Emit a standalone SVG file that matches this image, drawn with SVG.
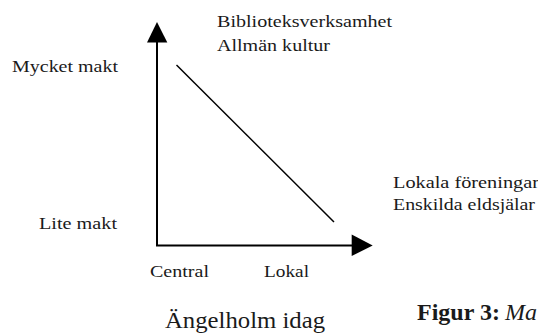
<svg xmlns="http://www.w3.org/2000/svg" width="538" height="333" viewBox="0 0 538 333">
<style>
  text { font-family: "Liberation Serif", "Times New Roman", serif; fill: #1a1a1a; }
  .lbl { font-size: 16px; }
  .big { font-size: 23px; }
  .cap { font-size: 24px; }
  .axis { stroke: #000; stroke-width: 2; fill: none; }
  .diag { stroke: #000; stroke-width: 1.5; fill: none; }
  .head { fill: #000; stroke: none; }
</style>
<rect width="538" height="333" fill="#fff"/>
<g id="connectors">
  <path class="axis" d="M157 246 V41"/>
  <polygon class="head" points="157,22 147,42.5 167.3,42.5"/>
  <path class="axis" d="M156 245.5 H353"/>
  <polygon class="head" points="372.7,245.5 351.7,234.5 351.7,256"/>
  <path class="diag" d="M176.5 65 L334 222"/>
</g>
<g id="label-mycket-makt"><text class="lbl" x="12" y="72" textLength="106" lengthAdjust="spacingAndGlyphs">Mycket makt</text></g>
<g id="label-lite-makt"><text class="lbl" x="39" y="229" textLength="78" lengthAdjust="spacingAndGlyphs">Lite makt</text></g>
<g id="label-central"><text class="lbl" x="150" y="277" textLength="59" lengthAdjust="spacingAndGlyphs">Central</text></g>
<g id="label-lokal"><text class="lbl" x="264" y="277" textLength="45" lengthAdjust="spacingAndGlyphs">Lokal</text></g>
<g id="label-top">
  <text class="lbl" x="217" y="27" textLength="175" lengthAdjust="spacingAndGlyphs">Biblioteksverksamhet</text>
  <text class="lbl" x="217" y="50.5" textLength="113" lengthAdjust="spacingAndGlyphs">Allmän kultur</text>
</g>
<g id="label-bottom-right">
  <text class="lbl" x="393" y="188" textLength="146" lengthAdjust="spacingAndGlyphs">Lokala föreningar</text>
  <text class="lbl" x="393" y="210" textLength="142" lengthAdjust="spacingAndGlyphs">Enskilda eldsjälar</text>
</g>
<g id="title"><text class="big" x="165" y="328" textLength="160" lengthAdjust="spacingAndGlyphs">Ängelholm idag</text></g>
<g id="caption"><text class="cap" x="417" y="320"><tspan font-weight="bold">Figur 3:</tspan><tspan font-style="italic" x="505">Ma</tspan></text></g>
</svg>
